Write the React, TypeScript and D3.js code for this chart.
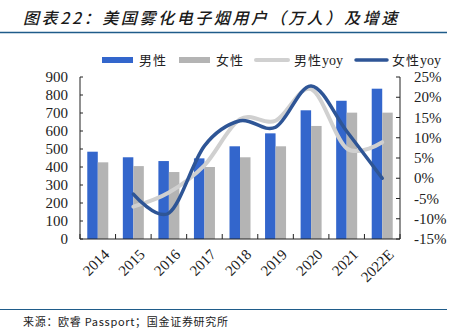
import React from "react";
import * as d3 from "d3";

const categories = ["2014", "2015", "2016", "2017", "2018", "2019", "2020", "2021", "2022E"];
const maleUsers = [485, 454, 433, 448, 515, 587, 715, 768, 835];
const femaleUsers = [426, 405, 372, 400, 454, 515, 628, 702, 702];
const yoyCategories = ["2015", "2016", "2017", "2018", "2019", "2020", "2021", "2022E"];
const maleYoy = [-7.0, -3.5, 3.2, 14.6, 14.2, 22.0, 7.4, 8.9];
const femaleYoy = [-3.9, -8.6, 8.0, 14.2, 12.6, 22.8, 11.6, 0.0];
const leftTicks = [0, 100, 200, 300, 400, 500, 600, 700, 800, 900];
const rightTicks = [-15, -10, -5, 0, 5, 10, 15, 20, 25];

const CJK = "'Noto Sans CJK SC', sans-serif";
const SERIF = "'Liberation Serif', 'DejaVu Serif', serif";

export default function App() {
  const W = 456, H = 328;
  const x0 = 80, x1 = 400, yTop = 77, yBot = 239;
  const x = d3.scaleBand<string>().domain(categories).range([x0, x1]).padding(0);
  const yL = d3.scaleLinear().domain([0, 900]).range([yBot, yTop]);
  const yR = d3.scaleLinear().domain([-15, 25]).range([yBot, yTop]);
  const barW = 10.5;
  const cx = (c: string) => (x(c) as number) + x.bandwidth() / 2;

  const line = d3
    .line<[string, number]>()
    .x((d) => cx(d[0]))
    .y((d) => yR(d[1]))
    .curve(d3.curveCardinal.tension(0));

  const maleLine = line(yoyCategories.map((c, i) => [c, maleYoy[i]] as [string, number])) || "";
  const femaleLine = line(yoyCategories.map((c, i) => [c, femaleYoy[i]] as [string, number])) || "";

  const blue = "#3366CC";
  const gray = "#B4B4B4";
  const lgray = "#D0D0D0";
  const navy = "#2E5596";
  const axis = "#222";

  const boundaries = d3.range(categories.length + 1).map((i) => x0 + i * x.bandwidth());

  const legendY = 60;

  return (
    <svg width={W} height={H} style={{ position: "absolute", left: 0, top: 0, background: "#fff" }}>
      <rect x={0} y={0} width={W} height={H} fill="#fff" />
      <text x={23} y={24} fontFamily={CJK} fontSize={16} fontStyle="italic" fontWeight={500} letterSpacing={2.6} fill="#1a1a1a">
        图表22：美国雾化电子烟用户（万人）及增速
      </text>
      <line x1={0} x2={447} y1={32.5} y2={32.5} stroke="#1F5C8A" strokeWidth={1.5} />

      {/* legend */}
      <rect x={102} y={legendY - 3} width={31} height={6} fill={blue} />
      <text x={139} y={legendY + 4.5} fontFamily={CJK} fontSize={13} letterSpacing={1} fill="#222">男性</text>
      <rect x={179} y={legendY - 3} width={31} height={6} fill={gray} />
      <text x={216} y={legendY + 4.5} fontFamily={CJK} fontSize={13} letterSpacing={1} fill="#222">女性</text>
      <line x1={256} x2={288} y1={legendY} y2={legendY} stroke={lgray} strokeWidth={4} strokeLinecap="round" />
      <text x={294} y={legendY + 4.5} fontFamily={CJK} fontSize={13} letterSpacing={1} fill="#222">
        男性<tspan fontFamily={SERIF} fontSize={14} letterSpacing={0}>yoy</tspan>
      </text>
      <line x1={356} x2={387} y1={legendY} y2={legendY} stroke={navy} strokeWidth={3.5} strokeLinecap="round" />
      <text x={392} y={legendY + 4.5} fontFamily={CJK} fontSize={13} letterSpacing={1} fill="#222">
        女性<tspan fontFamily={SERIF} fontSize={14} letterSpacing={0}>yoy</tspan>
      </text>

      {/* bars */}
      {categories.map((c, i) => (
        <g key={c}>
          <rect x={cx(c) - barW} y={yL(maleUsers[i])} width={barW} height={yBot - yL(maleUsers[i])} fill={blue} />
          <rect x={cx(c)} y={yL(femaleUsers[i])} width={barW} height={yBot - yL(femaleUsers[i])} fill={gray} />
        </g>
      ))}

      {/* lines */}
      <path d={maleLine} fill="none" stroke={lgray} strokeWidth={4} strokeLinecap="round" />
      <path d={femaleLine} fill="none" stroke={navy} strokeWidth={3.5} strokeLinecap="round" />

      {/* axes */}
      <line x1={x0} x2={x0} y1={yTop} y2={yBot} stroke={axis} strokeWidth={1} />
      <line x1={x1} x2={x1} y1={yTop} y2={yBot} stroke={axis} strokeWidth={1} />
      <line x1={x0} x2={x1} y1={yBot} y2={yBot} stroke={axis} strokeWidth={1} />
      {leftTicks.map((t) => (
        <g key={"l" + t}>
          <line x1={x0} x2={x0 + 3} y1={yL(t)} y2={yL(t)} stroke={axis} />
          <text x={68} y={yL(t) + 5} textAnchor="end" fontFamily={SERIF} fontSize={15} fill="#222">{t}</text>
        </g>
      ))}
      {rightTicks.map((t) => (
        <g key={"r" + t}>
          <line x1={x1 - 4} x2={x1} y1={yR(t)} y2={yR(t)} stroke={axis} />
          <text x={414} y={yR(t) + 5} textAnchor="start" fontFamily={SERIF} fontSize={15} fill="#222">{t}%</text>
        </g>
      ))}
      {boundaries.map((b, i) => (
        <line key={"b" + i} x1={b} x2={b} y1={yBot - 5} y2={yBot} stroke={axis} />
      ))}
      {categories.map((c) => (
        <text
          key={"x" + c}
          transform={`translate(${cx(c) + 5},${yBot + 9}) rotate(-45)`}
          textAnchor="end"
          fontFamily={SERIF}
          fontSize={15}
          fill="#222"
          dy="0.7em"
        >
          {c}
        </text>
      ))}

      <line x1={0} x2={447} y1={309.5} y2={309.5} stroke="#1F5C8A" strokeWidth={1.2} />
      <text x={23} y={326} fontFamily={CJK} fontSize={11} letterSpacing={0.7} fill="#222">
        来源：欧睿 Passport；国金证券研究所
      </text>
    </svg>
  );
}
